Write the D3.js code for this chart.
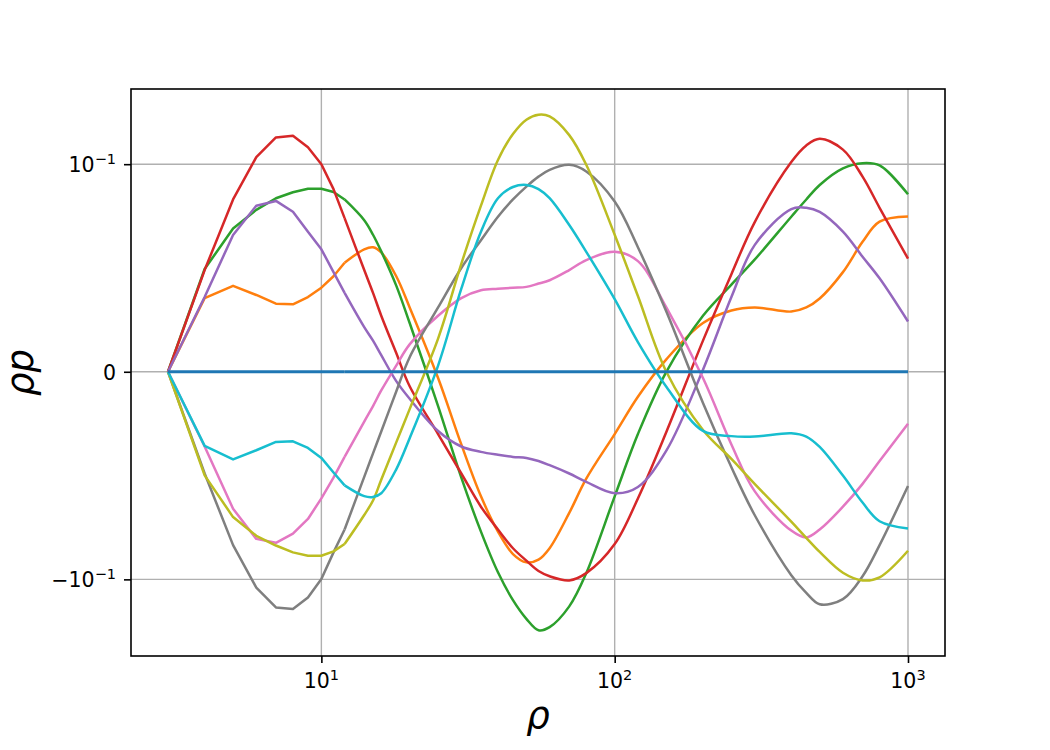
<!DOCTYPE html>
<html><head><meta charset="utf-8">
<script src="https://cdn.jsdelivr.net/npm/d3@7"></script>
<style>body{margin:0;background:#fff} svg{display:block} text{font-family:"DejaVu Sans",sans-serif;fill:#000}</style>
</head><body><svg id="c" width="1050" height="750"></svg>
<script>
const rho = [3,4,5,6,7,8,9,10,11,12,14,15,16,18,20,25,30,35,40,45,50,55,60,70,80,100,120,150,200,250,300,400,450,500,600,700,800,1000];

const blueVals   = [0,0,0,0,0,0,0,0,0,0,0,0,0,0,0,0,0,0,0,0,0,0,0,0,0,0,0,0,0,0,0,0,0,0,0,0,0,0];
const orangeVals = [0,0.0355,0.0414,0.037,0.0328,0.0325,0.036,0.0405,0.046,0.0525,0.059,0.060,0.0575,0.046,0.031,-0.003,-0.035,-0.060,-0.077,-0.0878,-0.0918,-0.0905,-0.085,-0.068,-0.0515,-0.030,-0.012,0.006,0.0235,0.0295,0.031,0.029,0.031,0.0353,0.048,0.0626,0.0723,0.0748];
const greenVals  = [0,0.0495,0.069,0.078,0.0836,0.0865,0.0882,0.0882,0.0866,0.083,0.073,0.066,0.058,0.0415,0.0235,-0.0165,-0.051,-0.077,-0.0966,-0.110,-0.119,-0.1245,-0.123,-0.113,-0.097,-0.060,-0.030,0.0,0.027,0.042,0.054,0.0747,0.083,0.090,0.098,0.1005,0.0994,0.0855];
const redVals    = [0,0.049,0.083,0.1034,0.1129,0.1137,0.1082,0.1,0.088,0.074,0.049,0.038,0.027,0.009,-0.007,-0.030,-0.049,-0.065,-0.076,-0.085,-0.091,-0.096,-0.0985,-0.1005,-0.097,-0.083,-0.061,-0.029,0.015,0.047,0.072,0.101,0.109,0.1122,0.107,0.094,0.079,0.0545];
const purpleVals = [0,0.036,0.0659,0.080,0.0823,0.0771,0.0675,0.059,0.048,0.038,0.0215,0.015,0.008,-0.0045,-0.013,-0.0285,-0.036,-0.0386,-0.040,-0.041,-0.0415,-0.043,-0.045,-0.049,-0.053,-0.0585,-0.0555,-0.038,0.001,0.036,0.061,0.0784,0.079,0.077,0.0675,0.0554,0.045,0.0242];
const pinkVals   = [0,-0.036,-0.066,-0.0805,-0.0824,-0.078,-0.0709,-0.061,-0.051,-0.041,-0.024,-0.0165,-0.009,0.003,0.0132,0.027,0.0355,0.0393,0.040,0.0405,0.0409,0.0425,0.0441,0.049,0.0538,0.0578,0.0533,0.031,-0.003,-0.035,-0.0575,-0.0765,-0.0798,-0.076,-0.065,-0.054,-0.043,-0.025];
const grayVals   = [0,-0.049,-0.0835,-0.104,-0.1135,-0.1143,-0.1087,-0.0998,-0.087,-0.076,-0.0506,-0.0393,-0.0288,-0.0095,0.007,0.031,0.050,0.0634,0.0747,0.083,0.0892,0.094,0.0973,0.0997,0.0965,0.082,0.060,0.029,-0.015,-0.046,-0.069,-0.098,-0.1065,-0.112,-0.1095,-0.0985,-0.0835,-0.055];
const oliveVals  = [0,-0.0499,-0.070,-0.079,-0.0837,-0.087,-0.0886,-0.0886,-0.0865,-0.083,-0.069,-0.062,-0.052,-0.034,-0.018,0.016,0.052,0.080,0.102,0.1145,0.1214,0.1238,0.123,0.114,0.0997,0.066,0.0365,0.0,-0.028,-0.042,-0.054,-0.0722,-0.080,-0.0868,-0.0968,-0.1005,-0.099,-0.0862];
const cyanVals   = [0,-0.0357,-0.0422,-0.0378,-0.0338,-0.0335,-0.0367,-0.0415,-0.0485,-0.0547,-0.0599,-0.0603,-0.0585,-0.047,-0.032,0.003,0.040,0.0675,0.0836,0.089,0.090,0.088,0.0836,0.0707,0.0578,0.035,0.0143,-0.0072,-0.0285,-0.031,-0.0312,-0.0296,-0.0312,-0.0362,-0.050,-0.063,-0.072,-0.0755];

const xTickValues = [10,100,1000];
const xTickBase = ['10','10','10'];
const xTickExp = ['1','2','3'];
const yTickValues = [-0.1,0,0.1];
const yTickBase = ['\u221210','0','10'];
const yTickExp = ['\u22121','','\u22121'];

const series = [
  {values: orangeVals, color:'#ff7f0e'},
  {values: greenVals,  color:'#2ca02c'},
  {values: redVals,    color:'#d62728'},
  {values: purpleVals, color:'#9467bd'},
  {values: pinkVals,   color:'#e377c2'},
  {values: grayVals,   color:'#7f7f7f'},
  {values: oliveVals,  color:'#bcbd22'},
  {values: cyanVals,   color:'#17becf'},
  {values: blueVals,   color:'#1f77b4', zero:true}
];

const L=131, R=945, T=89, B=656;
const svg = d3.select('#c');

const lx = rho.map(Math.log10);
const lo = d3.min(lx), hi = d3.max(lx), sp = hi-lo;
const x = d3.scaleLog().domain([10**(lo-0.05*sp), 10**(hi+0.05*sp)]).range([L,R]);
const allV = series.flatMap(s=>s.values);
const ymin = d3.min(allV), ymax = d3.max(allV), yp = 0.05*(ymax-ymin);
const y = d3.scaleLinear().domain([ymin-yp, ymax+yp]).range([B,T]);

// grid
const grid = svg.append('g');
grid.selectAll('.gx').data(xTickValues).join('line')
  .attr('x1',d=>x(d)).attr('x2',d=>x(d)).attr('y1',T).attr('y2',B)
  .attr('stroke','#b0b0b0').attr('stroke-width',1.4);
grid.selectAll('.gy').data(yTickValues).join('line')
  .attr('x1',L).attr('x2',R).attr('y1',d=>y(d)).attr('y2',d=>y(d))
  .attr('stroke','#b0b0b0').attr('stroke-width',1.4);

// lines
const splitX = 12;
const lineLin = d3.line().x(d=>x(d[0])).y(d=>y(d[1])).curve(d3.curveLinear);
const lineSm = d3.line().x(d=>x(d[0])).y(d=>y(d[1])).curve(d3.curveCatmullRom.alpha(0.5));
const plot = svg.append('g');
series.forEach(s=>{
  const pts = rho.map((r,i)=>[r, s.values[i]]);
  const w = s.zero ? 3 : 2.5;
  plot.append('path').attr('d', lineLin(pts.filter(p=>p[0]<=splitX)))
    .attr('fill','none').attr('stroke',s.color).attr('stroke-width',w).attr('stroke-linejoin','round');
  plot.append('path').attr('d', lineSm(pts.filter(p=>p[0]>=splitX)))
    .attr('fill','none').attr('stroke',s.color).attr('stroke-width',w).attr('stroke-linejoin','round');
});

// axes ticks
const gx = svg.append('g').attr('transform',`translate(0,${B})`)
  .call(d3.axisBottom(x).tickValues(xTickValues).tickSize(7).tickFormat(''));
gx.select('.domain').remove();
gx.selectAll('line').attr('stroke','#000').attr('stroke-width',1.6);
const gy = svg.append('g').attr('transform',`translate(${L},0)`)
  .call(d3.axisLeft(y).tickValues(yTickValues).tickSize(7).tickFormat(''));
gy.select('.domain').remove();
gy.selectAll('line').attr('stroke','#000').attr('stroke-width',1.6);

// tick labels
xTickValues.forEach((v,i)=>{
  const t = svg.append('text').attr('x',x(v)).attr('y',B+31.5).attr('text-anchor','middle').style('font-size','20.5px');
  t.append('tspan').text(xTickBase[i]);
  t.append('tspan').attr('dy',-8).style('font-size','14.5px').text(xTickExp[i]);
});
yTickValues.forEach((v,i)=>{
  const t = svg.append('text').attr('x',L-15).attr('y',y(v)+8).attr('text-anchor','end').style('font-size','20.5px');
  t.append('tspan').text(yTickBase[i]);
  if (yTickExp[i]) t.append('tspan').attr('dy',-8).style('font-size','14.5px').text(yTickExp[i]);
});

// frame
svg.append('rect').attr('x',L).attr('y',T).attr('width',R-L).attr('height',B-T)
  .attr('fill','none').attr('stroke','#000').attr('stroke-width',1.6);

// axis labels
svg.append('text').attr('x',(L+R)/2).attr('y',728).attr('text-anchor','middle')
  .style('font-size','37px').style('font-style','italic').text('ρ');
svg.append('text').attr('transform',`translate(33,${(T+B)/2}) rotate(-90)`).attr('text-anchor','middle')
  .style('font-size','37px').style('font-style','italic').text('ρp');
</script></body></html>
